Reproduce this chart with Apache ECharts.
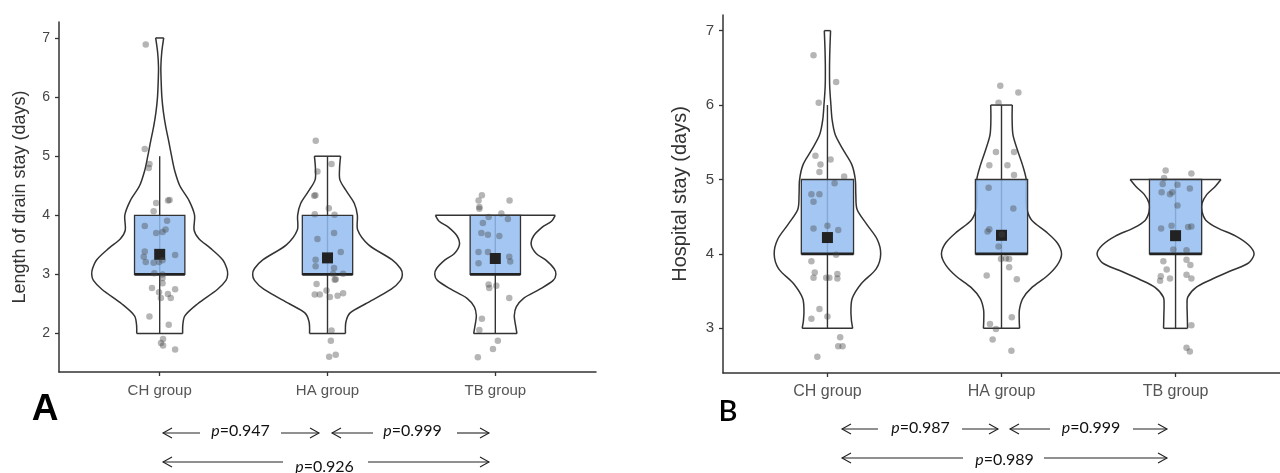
<!DOCTYPE html>
<html>
<head>
<meta charset="utf-8">
<script src="https://cdn.jsdelivr.net/npm/echarts@6/dist/echarts.min.js"></script>
<style>
html, body { margin: 0; padding: 0; background: #fff; }
#main { width: 1280px; height: 473px; }
</style>
</head>
<body>
<div id="main"></div>
<script>
var groups = ['CH group', 'HA group', 'TB group'];

// ---- A: length of drain stay ----
// box: [min, q1, median, q3, max]
var drainBox = [[2, 3, 3, 4, 5], [2, 3, 3, 4, 5], [2, 3, 3, 4, 4]];
var drainMean = [3.34, 3.28, 3.27];
// violin outline: [value, half width in group units]
var drainViolin = [
	[[7, .024], [6.75, .012], [6.5, .007], [6.25, .009], [6, .013], [5.75, .022], [5.5, .036], [5.25, .054], [5, .071], [4.75, .09], [4.5, .12], [4.25, .175], [4, .208], [3.75, .205], [3.6, .235], [3.45, .3], [3.25, .375], [3.1, .4], [3, .405], [2.9, .395], [2.75, .345], [2.5, .225], [2.3, .15], [2.15, .138], [2, .137]],
	[[5, .078], [4.8, .072], [4.6, .074], [4.4, .115], [4.2, .16], [4, .178], [3.75, .18], [3.5, .245], [3.25, .384], [3.1, .435], [3, .446], [2.9, .435], [2.75, .38], [2.5, .225], [2.35, .135], [2.2, .11], [2, .107]],
	[[4, .357], [3.9, .335], [3.8, .28], [3.65, .228], [3.5, .214], [3.35, .245], [3.25, .298], [3.1, .35], [3, .361], [2.9, .345], [2.75, .265], [2.6, .17], [2.45, .125], [2.3, .113], [2.15, .12], [2, .129]]
];
// jittered points: [x offset from group, value]
var drainPoints = [
	[[-.083, 6.89], [-.089, 5.12], [-.061, 4.87], [-.065, 4.80], [-.021, 4.21], [.05, 4.25], [.059, 4.26], [-.036, 4.07], [.044, 3.91], [-.089, 3.82], [-.021, 3.70], [.017, 3.72], [.035, 3.76], [-.089, 3.39], [-.083, 3.21], [-.036, 3.20], [-.004, 3.21], [.017, 3.24], [.092, 3.33], [-.095, 3.30], [-.032, 3.02], [.017, 3.00], [.017, 2.94], [.017, 2.85], [-.046, 2.77], [-.004, 2.70], [.049, 2.67], [.066, 2.60], [.092, 2.75], [.007, 2.60], [-.061, 2.29], [.054, 2.15], [.02, 1.91], [.008, 1.84], [.02, 1.80], [.092, 1.73]],
	[[-.07, 5.26], [.024, 4.87], [-.06, 4.74], [-.079, 4.33], [-.072, 4.34], [.008, 4.12], [.042, 4.01], [-.076, 4.02], [-.06, 3.60], [.039, 3.70], [.079, 3.38], [-.071, 3.25], [-.071, 3.14], [.039, 3.11], [.033, 3.01], [.049, 2.92], [.043, 2.91], [.093, 3.01], [-.065, 2.84], [-.006, 2.73], [-.076, 2.66], [-.046, 2.66], [.014, 2.62], [.06, 2.64], [.093, 2.68], [.024, 2.05], [.02, 1.88], [.01, 1.61], [.049, 1.64]],
	[[-.08, 4.34], [-.1, 4.25], [-.095, 4.14], [-.095, 4.11], [.085, 4.25], [.036, 4.03], [.075, 3.94], [-.04, 3.97], [-.074, 3.87], [-.083, 3.70], [-.044, 3.67], [.024, 3.65], [-.1, 3.38], [-.044, 3.38], [.083, 3.30], [.089, 3.22], [-.1, 3.19], [-.04, 2.83], [-.036, 2.77], [.006, 2.81], [.083, 2.60], [-.08, 2.25], [-.095, 2.06], [.015, 1.88], [-.014, 1.74], [-.104, 1.60]]
];
var drainP = ['0.947', '0.999', '0.926'];

// ---- B: hospital stay ----
var hospBox = [[3, 4, 4, 5, 6], [3, 4, 4, 5, 6], [3, 4, 4, 5, 5]];
var hospMean = [4.22, 4.25, 4.245];
var hospViolin = [
	[[7, .018], [6.75, .014], [6.5, .012], [6.25, .013], [6, .02], [5.8, .027], [5.6, .045], [5.4, .09], [5.2, .14], [5, .16], [4.8, .163], [4.6, .17], [4.4, .225], [4.2, .285], [4, .306], [3.8, .28], [3.6, .194], [3.4, .142], [3.2, .135], [3, .145]],
	[[6, .062], [5.8, .061], [5.6, .066], [5.4, .091], [5.2, .12], [5, .142], [4.8, .142], [4.6, .146], [4.45, .175], [4.3, .255], [4.15, .32], [4, .345], [3.85, .32], [3.7, .26], [3.55, .175], [3.4, .122], [3.25, .103], [3.1, .102], [3, .104]],
	[[5, .261], [4.9, .225], [4.8, .18], [4.68, .152], [4.57, .152], [4.45, .175], [4.35, .24], [4.24, .346], [4.12, .42], [4, .451], [3.88, .42], [3.78, .325], [3.65, .2], [3.55, .118], [3.42, .07], [3.3, .066], [3.2, .067], [3, .069]]
];
var hospPoints = [
	[[-.08, 6.67], [.05, 6.31], [-.05, 6.03], [-.069, 5.32], [-.04, 5.20], [.018, 5.27], [-.046, 5.10], [.096, 5.04], [.041, 4.95], [-.092, 4.80], [-.046, 4.80], [-.08, 4.70], [0, 4.38], [.062, 4.32], [-.08, 4.34], [.05, 3.99], [-.092, 3.90], [-.073, 3.75], [-.08, 3.68], [-.007, 3.68], [.011, 3.68], [.057, 3.73], [.057, 3.67], [-.046, 3.26], [0, 3.16], [-.092, 3.13], [.073, 2.88], [.062, 2.76], [.087, 2.76], [-.058, 2.62]],
	[[-.007, 6.26], [.097, 6.17], [-.017, 6.03], [-.032, 5.37], [.072, 5.37], [-.07, 5.19], [.034, 5.19], [.072, 5.06], [-.074, 4.89], [.068, 4.61], [-.07, 4.33], [-.08, 4.30], [.002, 4.26], [-.017, 4.10], [-.003, 3.93], [.025, 3.94], [.044, 3.93], [.044, 3.82], [-.085, 3.71], [.088, 3.66], [.059, 3.15], [-.066, 3.06], [-.032, 2.99], [-.051, 2.85], [.057, 2.70]],
	[[-.057, 5.12], [.091, 5.08], [-.066, 5.02], [-.074, 4.94], [.011, 4.93], [.082, 4.88], [-.08, 4.83], [-.032, 4.80], [-.019, 4.83], [.011, 4.65], [-.083, 4.34], [-.023, 4.38], [.072, 4.36], [.091, 4.37], [-.013, 4.06], [.063, 4.05], [-.07, 3.90], [.063, 3.92], [-.051, 3.79], [.085, 3.85], [-.085, 3.70], [-.089, 3.64], [-.032, 3.67], [.063, 3.72], [.091, 3.67], [.091, 3.04], [.063, 2.74], [.082, 2.69]]
];
var hospP = ['0.987', '0.999', '0.989'];

var yTicksA = [2, 3, 4, 5, 6, 7];
var yTicksB = [3, 4, 5, 6, 7];

var lineCol = '#333';
var boxHalf = 0.15;

function violinItem(profiles, boxes) {
	return function (params, api) {
		var i = params.dataIndex, c = i + 1, prof = profiles[i], b = boxes[i];
		var left = prof.map(function (d) { return api.coord([c - d[1], d[0]]); });
		var right = prof.map(function (d) { return api.coord([c + d[1], d[0]]); });
		var n = prof.length - 1;
		var ls = { stroke: lineCol, lineWidth: 1.5, fill: null };
		var w0 = api.coord([c, b[0]]), w1 = api.coord([c, b[4]]);
		return {
			type: 'group',
			children: [
				{ type: 'polyline', shape: { points: left, smooth: 0.3 }, style: ls },
				{ type: 'polyline', shape: { points: right, smooth: 0.3 }, style: ls },
				{ type: 'line', shape: { x1: left[0][0], y1: left[0][1], x2: right[0][0], y2: right[0][1] }, style: ls },
				{ type: 'line', shape: { x1: left[n][0], y1: left[n][1], x2: right[n][0], y2: right[n][1] }, style: ls },
				{ type: 'line', shape: { x1: w0[0], y1: w0[1], x2: w1[0], y2: w1[1] }, style: { stroke: lineCol, lineWidth: 1.4 } }
			]
		};
	};
}

function boxItem(boxes, means) {
	return function (params, api) {
		var i = params.dataIndex, c = i + 1, b = boxes[i];
		var tl = api.coord([c - boxHalf, b[3]]), br = api.coord([c + boxHalf, b[1]]);
		var ml = api.coord([c - boxHalf, b[2]]), mr = api.coord([c + boxHalf, b[2]]);
		var m = api.coord([c, means[i]]);
		return {
			type: 'group',
			children: [
				{ type: 'rect', shape: { x: tl[0], y: tl[1], width: br[0] - tl[0], height: br[1] - tl[1] },
					style: { fill: 'rgba(147,189,240,0.85)', stroke: lineCol, lineWidth: 1.3 } },
				{ type: 'line', shape: { x1: ml[0], y1: ml[1], x2: mr[0], y2: mr[1] }, style: { stroke: '#222', lineWidth: 2.8 } },
				{ type: 'rect', shape: { x: m[0] - 5.5, y: m[1] - 5.5, width: 11, height: 11 }, style: { fill: '#222' } }
			]
		};
	};
}

function pts(list) {
	var out = [];
	list.forEach(function (g, i) {
		g.forEach(function (p) { out.push([i + 1 + p[0], p[1]]); });
	});
	return out;
}

var groupData = [[1, 3], [2, 3], [3, 3]];

function xAxis(idx, size) {
	return {
		type: 'value', gridIndex: idx, min: 0.4, max: 3.6,
		splitLine: { show: false },
		axisLine: { show: true, onZero: false, lineStyle: { color: lineCol, width: 1.5 } },
		axisTick: { show: true, customValues: [1, 2, 3], length: 4, lineStyle: { color: lineCol, width: 1.3 } },
		axisLabel: { customValues: [1, 2, 3], margin: 11, color: '#555', fontSize: size, fontFamily: 'Liberation Sans',
			formatter: function (v) { return groups[Math.round(v) - 1]; } }
	};
}

function yAxis(idx, min, max, ticks, name, size, nameSize, gap) {
	return {
		type: 'value', gridIndex: idx, min: min, max: max,
		name: name, nameLocation: 'middle', nameGap: gap,
		nameTextStyle: { fontSize: nameSize, color: '#333', fontFamily: 'Liberation Sans' },
		splitLine: { show: false },
		axisLine: { show: true, onZero: false, lineStyle: { color: lineCol, width: 1.5 } },
		axisTick: { show: true, customValues: ticks, length: 4, lineStyle: { color: lineCol, width: 1.3 } },
		axisLabel: { customValues: ticks, margin: 9, color: '#444', fontSize: size, fontFamily: 'Liberation Sans' }
	};
}

function panelSeries(idx, violin, boxes, means, points) {
	return [
		{ type: 'custom', xAxisIndex: idx, yAxisIndex: idx, data: groupData, silent: true, clip: false,
			renderItem: violinItem(violin, boxes) },
		{ type: 'scatter', xAxisIndex: idx, yAxisIndex: idx, data: pts(points), symbolSize: 6.5, silent: true,
			itemStyle: { color: 'rgba(70,70,70,0.5)' } },
		{ type: 'custom', xAxisIndex: idx, yAxisIndex: idx, data: groupData, silent: true, clip: false,
			renderItem: boxItem(boxes, means) }
	];
}

// p-value arrows: [left end, first line end, text x, second line start, right end, line y, text y]
var arrowLayoutA = [[163, 200, 240.5, 281, 319, 433, 431], [332, 373, 412.5, 457, 489, 433, 431], [163, 283, 324.5, 368, 489, 462, 467]];
var arrowLayoutB = [[842, 878, 920.5, 962, 998, 429, 427.5], [1010, 1050, 1091, 1133, 1167, 429, 427.5], [842, 963, 1004.5, 1044, 1167, 458, 459.5]];

function arrows(layout, pvals) {
	var els = [];
	var ls = { stroke: '#222', lineWidth: 1.1 };
	layout.forEach(function (a, k) {
		var y = a[5];
		els.push({ type: 'line', shape: { x1: a[0], y1: y, x2: a[1], y2: y }, style: ls });
		els.push({ type: 'polyline', shape: { points: [[a[0] + 9, y - 5], [a[0], y], [a[0] + 9, y + 5]] }, style: ls });
		els.push({ type: 'line', shape: { x1: a[3], y1: y, x2: a[4], y2: y }, style: ls });
		els.push({ type: 'polyline', shape: { points: [[a[4] - 9, y - 5], [a[4], y], [a[4] - 9, y + 5]] }, style: ls });
		els.push({ type: 'text', x: a[2], y: a[6], style: {
			text: '{i|p}=' + pvals[k], fill: '#111', font: '16px Lato', align: 'center', verticalAlign: 'middle',
			rich: { i: { font: 'italic 16px Lato', fill: '#111' } } } });
	});
	return els;
}

var myChart = echarts.init(document.getElementById('main'));
myChart.setOption({
	animation: false,
	backgroundColor: '#fff',
	grid: [
		{ left: 59, top: 22, width: 537, height: 350 },
		{ left: 723, top: 15, width: 562, height: 358 }
	],
	xAxis: [xAxis(0, 15), xAxis(1, 16)],
	yAxis: [
		yAxis(0, 1.35, 7.27, yTicksA, 'Length of drain stay (days)', 14, 18, 30),
		yAxis(1, 2.40, 7.21, yTicksB, 'Hospital stay (days)', 15, 20, 33)
	],
	series: panelSeries(0, drainViolin, drainBox, drainMean, drainPoints)
		.concat(panelSeries(1, hospViolin, hospBox, hospMean, hospPoints)),
	graphic: [
		{ type: 'text', x: 45, y: 410, style: { text: 'A', font: 'bold 37px "Liberation Sans"', fill: '#000', align: 'center', verticalAlign: 'middle' } },
		{ type: 'text', x: 728, y: 412, style: { text: 'B', font: '600 29px Lato', fill: '#000', align: 'center', verticalAlign: 'middle' } }
	].concat(arrows(arrowLayoutA, drainP)).concat(arrows(arrowLayoutB, hospP))
});
</script>
</body>
</html>
